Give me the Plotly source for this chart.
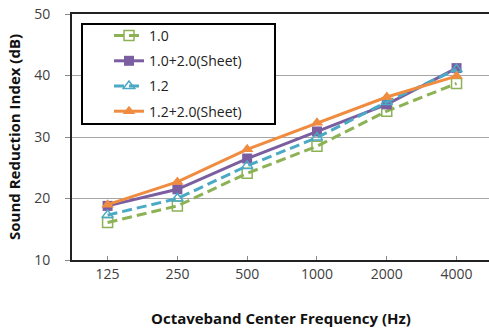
import plotly.graph_objects as go

freqs = ["125", "250", "500", "1000", "2000", "4000"]
s10 = [16.1, 18.8, 24.1, 28.5, 34.2, 38.7]
s10_sheet = [18.8, 21.5, 26.5, 30.9, 35.3, 41.2]
s12 = [17.3, 20.0, 25.3, 29.9, 35.7, 41.0]
s12_sheet = [19.0, 22.7, 28.0, 32.3, 36.5, 39.9]
names = ["1.0", "1.0+2.0(Sheet)", "1.2", "1.2+2.0(Sheet)"]
yticks = [10, 20, 30, 40, 50]

FONT = "Open Sans"
green, purple, cyan, orange = "#8DB255", "#7B5EA0", "#4AA9C4", "#EF8C40"

PW, PH = 417, 246

fig = go.Figure()
fig.add_trace(go.Scatter(x=freqs, y=s10, name=names[0], mode="lines+markers", legendgroup="a",
                         line=dict(color=green, width=3, dash="10px,5px"),
                         marker=dict(symbol="square-open", size=10, color=green, line=dict(width=1.5))))
fig.add_trace(go.Scatter(x=freqs, y=s10_sheet, name=names[1], mode="lines+markers", legendgroup="b",
                         line=dict(color=purple, width=3),
                         marker=dict(symbol="square", size=10, color=purple)))
fig.add_trace(go.Scatter(x=freqs, y=s12, name=names[2], mode="lines+markers", legendgroup="c",
                         line=dict(color=cyan, width=3, dash="10px,5px"),
                         marker=dict(symbol="triangle-up-open", size=10, color=cyan, line=dict(width=1.5))))
fig.add_trace(go.Scatter(x=freqs, y=s12_sheet, name=names[3], mode="lines+markers", legendgroup="d",
                         line=dict(color=orange, width=3),
                         marker=dict(symbol="triangle-up", size=11, color=orange)))

fig.update_layout(
    width=489, height=328,
    margin=dict(l=72, r=0, t=14, b=68, autoexpand=False),
    paper_bgcolor="white", plot_bgcolor="white",
    font=dict(family=FONT, size=14, color="#404040"),
    showlegend=True,
    legend=dict(x=(109 - 72) / PW, y=1 - (20 - 14) / PH, xanchor="left", yanchor="top",
                bgcolor="rgba(0,0,0,0)", borderwidth=0,
                font=dict(family=FONT, size=14, color="#222"),
                tracegroupgap=4, itemwidth=30),
    shapes=[dict(type="rect", xref="paper", yref="paper",
                 x0=(82 - 72) / PW, x1=(275 - 72) / PW,
                 y0=1 - (124 - 14) / PH, y1=1 - (24 - 14) / PH,
                 line=dict(color="black", width=2), fillcolor="white", layer="above")],
    annotations=[
        dict(text="<b>Sound Reduction Index (dB)</b>", xref="paper", yref="paper",
             x=-(72 - 14) / PW, y=0.5, xanchor="center", yanchor="middle", textangle=-90,
             showarrow=False, font=dict(size=15, color="#111")),
        dict(text="<b>Octaveband Center Frequency (Hz)</b>", xref="paper", yref="paper",
             x=0.5, y=-(318 - 260) / PH, xanchor="center", yanchor="middle",
             showarrow=False, font=dict(size=15, color="#111")),
    ],
)

fig.update_xaxes(
    type="category", range=[-0.51, 5.465],
    showline=True, linecolor="#222", linewidth=2, mirror=True,
    ticks="inside", ticklen=4, tickcolor="#888", tickwidth=1,
    showgrid=False, zeroline=False,
    tickfont=dict(size=14, color="#404040"),
)
fig.update_yaxes(
    range=[10, 50], tickvals=yticks,
    showline=True, linecolor="#222", linewidth=2,
    ticks="outside", ticklen=5, tickcolor="#888", tickwidth=1,
    ticklabelstandoff=12,
    showgrid=True, gridcolor="#A6A6A6", gridwidth=1, zeroline=False,
    tickfont=dict(size=14, color="#404040"),
)

fig.write_html("out.html", config={"displayModeBar": False},
               post_script="document.body.style.margin='0';")
